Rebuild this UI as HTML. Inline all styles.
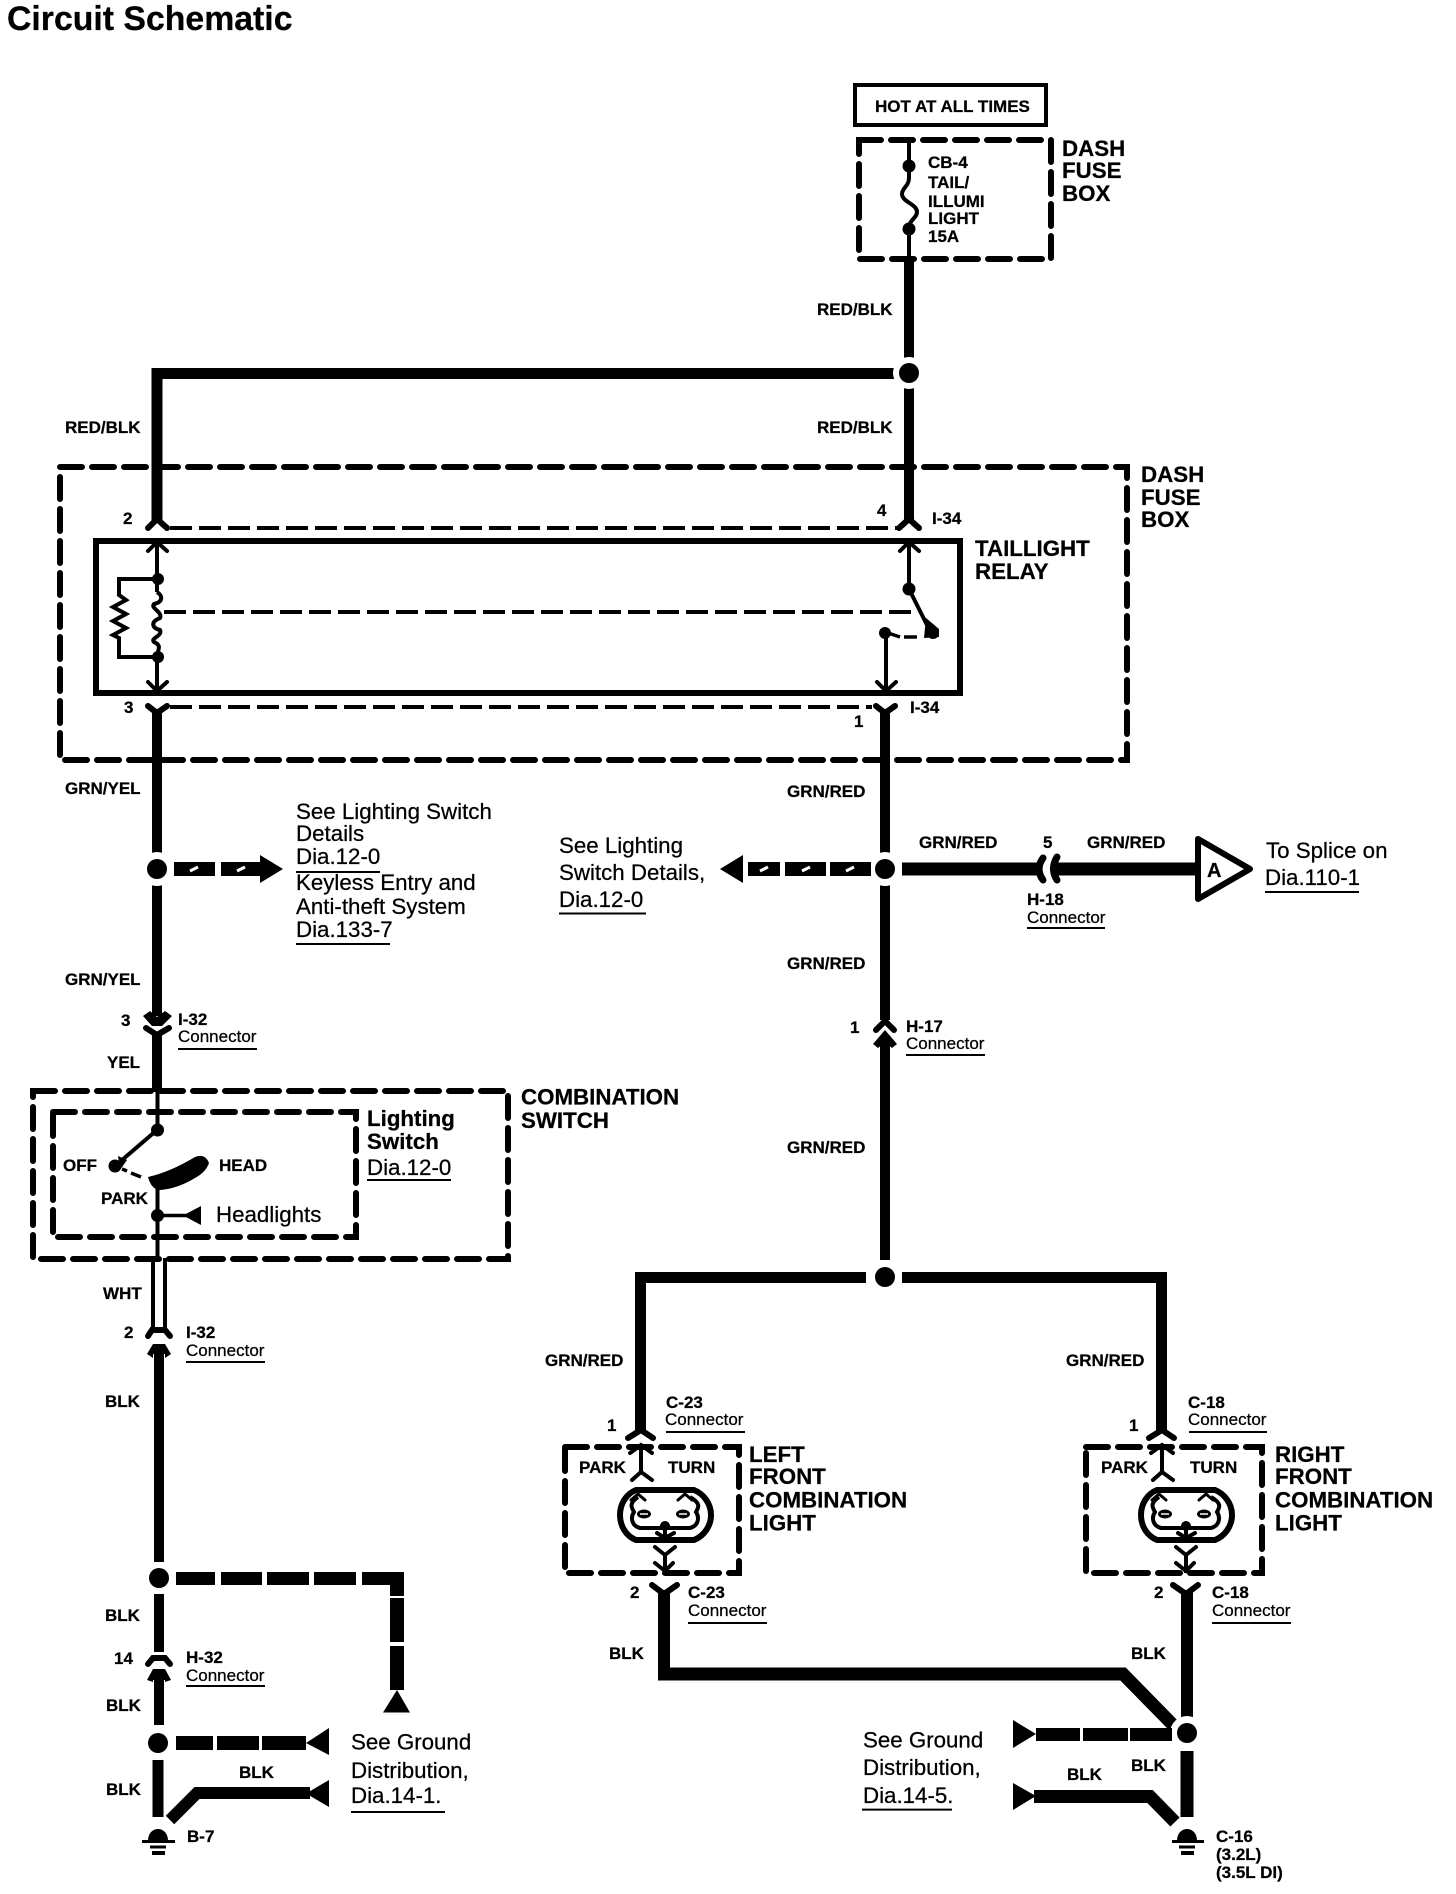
<!DOCTYPE html>
<html><head><meta charset="utf-8"><title>Circuit Schematic</title>
<style>
html,body{margin:0;padding:0;background:#fff}
svg{display:block}
text{font-family:"Liberation Sans",sans-serif;fill:#000;stroke:#000;stroke-width:.25px}
.w{font-size:17px;font-weight:bold}
.h{font-size:22.300px;font-weight:bold}
.s{font-size:22.300px}
.c{font-size:17px}
.t{font-size:33.800px;font-weight:bold}
.d{fill:none;stroke:#000;stroke-width:6;stroke-dasharray:22 10;stroke-linecap:round}
.f{fill:none;stroke:#000;stroke-width:4;stroke-dasharray:22 7}
.l{fill:none;stroke:#000;stroke-linecap:butt;stroke-linejoin:miter}
.k{fill:none;stroke:#000;stroke-width:6;stroke-linecap:round;stroke-linejoin:miter}
.a{fill:none;stroke:#000;stroke-width:4;stroke-linecap:round;stroke-linejoin:miter}
</style></head><body>
<svg width="1456" height="1894" viewBox="0 0 1456 1894" xmlns="http://www.w3.org/2000/svg">
<rect width="1456" height="1894" fill="#fff"/>
<text class="t" x="7" y="30">Circuit Schematic</text>

<!-- top fuse -->
<rect x="855" y="85" width="191" height="40" fill="none" stroke="#000" stroke-width="4"/>
<text class="w" x="875" y="112">HOT AT ALL TIMES</text>
<rect class="d" x="859" y="140" width="192" height="119"/>
<path class="l" stroke-width="4" d="M909 140V178C909 186 902 188 902 194C902 202 917 204 917 212C917 218 909 220 909 228V258"/>
<circle cx="909" cy="166" r="6.500"/><circle cx="909" cy="229" r="6.500"/>
<text class="w" x="928" y="168">CB-4</text>
<text class="w" x="928" y="188">TAIL/</text>
<text class="w" x="928" y="207">ILLUMI</text>
<text class="w" x="928" y="224">LIGHT</text>
<text class="w" x="928" y="242">15A</text>
<text class="h" x="1062" y="156">DASH</text>
<text class="h" x="1062" y="178">FUSE</text>
<text class="h" x="1062" y="201">BOX</text>

<!-- main wires top -->
<path class="l" stroke-width="10" d="M909 256V520"/>
<path class="l" stroke-width="11" d="M896 373.500H157V520"/>
<circle cx="909" cy="373" r="16" fill="#fff"/><circle cx="909" cy="373" r="10"/>
<text class="w" x="817" y="315">RED/BLK</text>
<text class="w" x="817" y="433">RED/BLK</text>
<text class="w" x="65" y="433">RED/BLK</text>

<!-- large dash box -->
<rect class="d" x="60" y="467" width="1067" height="293"/>
<text class="h" x="1141" y="482">DASH</text>
<text class="h" x="1141" y="505">FUSE</text>
<text class="h" x="1141" y="527">BOX</text>

<!-- relay -->
<rect x="96" y="541" width="864" height="152" fill="none" stroke="#000" stroke-width="6"/>
<path class="k" d="M148 528L157 519L167 528"/>
<path class="k" d="M899 528L909 519L919 528"/>
<path class="f" d="M170 528H897"/>
<path class="f" d="M170 707H872"/>
<path class="a" d="M148 551L157 542L167 551"/>
<path class="a" d="M900 551L909 542L919 551"/>
<path class="l" stroke-width="4" d="M157 541V592"/>
<path class="l" stroke-width="4" d="M157 592C163 596 163 602 154 604C150 608 163 612 160 618C150 622 152 628 160 630C163 636 150 638 154 642C163 646 157 650 157 657V692"/>
<path class="l" stroke-width="4" d="M157 579H119V595L126 600L113 607L126 614L113 621L126 628L113 635L119 638V657H157"/>
<circle cx="158" cy="579" r="6"/><circle cx="158" cy="657" r="6"/>
<path class="a" d="M148 682L157 691L167 682"/>
<path class="f" d="M164 612H918"/>
<path class="l" stroke-width="4" d="M909 541V589"/>
<path class="l" stroke-width="4" d="M909 589L931 633"/>
<circle cx="909" cy="589" r="6.500"/>
<path d="M926 618L939 629L939 637L924 638Z"/>
<circle cx="933" cy="633" r="6"/>
<circle cx="885" cy="633" r="6"/>
<path class="l" stroke-width="3.500" d="M888 633L900 637M904 637H917"/>
<path class="l" stroke-width="4" d="M886 633V692"/>
<path class="a" d="M877 682L886 691L896 682"/>
<path class="k" d="M148 706L157 713L167 706"/>
<path class="k" d="M876 706L885 713L895 706"/>
<text class="w" x="123" y="524">2</text>
<text class="w" x="124" y="713">3</text>
<text class="w" x="877" y="516">4</text>
<text class="w" x="932" y="524">I-34</text>
<text class="w" x="910" y="713">I-34</text>
<text class="w" x="854" y="727">1</text>
<text class="h" x="975" y="556">TAILLIGHT</text>
<text class="h" x="975" y="579">RELAY</text>

<!-- left mid -->
<path class="l" stroke-width="10" d="M157 712V1016"/>
<circle cx="157" cy="869" r="17" fill="#fff"/><circle cx="157" cy="869" r="10"/>
<path d="M174 862H215V876H174ZM221 862H260V876H221ZM260 855L283 869L260 883Z"/>
<path stroke="#fff" stroke-width="3" d="M190 871L198 867M237 871L245 867" fill="none"/>
<text class="w" x="65" y="794">GRN/YEL</text>
<text class="w" x="65" y="985">GRN/YEL</text>
<text class="s" x="296" y="819">See Lighting Switch</text>
<text class="s" x="296" y="841">Details</text>
<text class="s" x="296" y="864">Dia.12-0</text>
<path class="l" stroke-width="2" d="M296 872H380"/>
<text class="s" x="296" y="890">Keyless Entry and</text>
<text class="s" x="296" y="914">Anti-theft System</text>
<text class="s" x="296" y="937">Dia.133-7</text>
<path class="l" stroke-width="2" d="M296 944H390"/>

<!-- I-32 upper -->
<path d="M143 1016L150 1011L157 1017L165 1011L172 1016L162 1026H152Z"/>
<path class="k" d="M146 1028L157 1035L169 1028"/>
<path class="l" stroke-width="10" d="M157 1032V1092"/>
<text class="w" x="121" y="1026">3</text>
<text class="w" x="178" y="1025">I-32</text>
<text class="c" x="178" y="1042">Connector</text>
<path class="l" stroke-width="2" d="M178 1049H257"/>
<text class="w" x="107" y="1068">YEL</text>

<!-- combination switch -->
<rect class="d" x="33" y="1091" width="475" height="168"/>
<rect class="d" x="53" y="1112" width="303" height="125"/>
<path class="l" stroke-width="4" d="M157.500 1090V1130"/>
<circle cx="157.500" cy="1130" r="6.500"/>
<path class="l" stroke-width="4" d="M157 1130L115 1166"/>
<path d="M118 1156L127 1160L120 1170Z"/>
<circle cx="115" cy="1166" r="6.500"/>
<path class="l" stroke-width="3.500" d="M122 1169L127 1171M131 1173L141 1177"/>
<path d="M148 1177Q170 1172 195 1157Q205 1153 209 1163Q206 1172 195 1178Q175 1190 157 1190Q150 1186 148 1177Z"/>
<path class="l" stroke-width="4" d="M157.500 1185V1258"/>
<circle cx="157.500" cy="1215.500" r="6.500"/>
<path class="l" stroke-width="3.500" d="M158 1215.500H186"/>
<path d="M183 1215.500L201 1206V1225Z"/>
<text class="w" x="63" y="1171">OFF</text>
<text class="w" x="219" y="1171">HEAD</text>
<text class="w" x="101" y="1204">PARK</text>
<text class="s" x="216" y="1222">Headlights</text>
<text class="h" x="367" y="1126">Lighting</text>
<text class="h" x="367" y="1149">Switch</text>
<text class="s" x="367" y="1175">Dia.12-0</text>
<path class="l" stroke-width="2" d="M367 1180H451"/>
<text class="h" x="521" y="1104.500">COMBINATION</text>
<text class="h" x="521" y="1128">SWITCH</text>

<!-- WHT -->
<path class="l" stroke-width="4" d="M153 1258V1328M165 1258V1328"/>
<text class="w" x="103" y="1299">WHT</text>
<path class="k" d="M148 1336L152 1330H165L170 1336"/>
<text class="w" x="124" y="1338">2</text>
<text class="w" x="186" y="1338">I-32</text>
<text class="c" x="186" y="1356">Connector</text>
<path class="l" stroke-width="2" d="M186 1362H265"/>
<path d="M147 1354L153 1344H165L171 1354L165 1358V1354H153V1358Z"/>
<path class="l" stroke-width="10" d="M159 1344V1562M159 1594V1652"/>
<circle cx="159" cy="1578" r="10"/>
<text class="w" x="105" y="1407">BLK</text>
<text class="w" x="105" y="1621">BLK</text>
<path d="M176 1572H215V1585H176ZM221 1572H262V1585H221ZM267 1572H309V1585H267ZM314 1572H356V1585H314ZM362 1572H404V1585H362ZM390 1585H404V1596H390ZM390 1598H404V1642H390ZM390 1646H404V1690H390Z"/>
<path d="M397 1690L410 1712.500H383Z"/>

<!-- H-32 -->
<path class="k" d="M148 1664L153 1658H165L170 1664"/>
<path d="M147 1680L153 1669H165L171 1680L165 1682V1680H153V1682Z"/>
<path class="l" stroke-width="10" d="M159 1669V1725"/>
<text class="w" x="114" y="1664">14</text>
<text class="w" x="186" y="1663">H-32</text>
<text class="c" x="186" y="1681">Connector</text>
<path class="l" stroke-width="2" d="M186 1686H265"/>
<text class="w" x="106" y="1711">BLK</text>
<circle cx="158" cy="1743" r="10"/>
<path d="M176 1736H213V1750H176ZM217 1736H259V1750H217ZM262 1736H306V1750H262ZM306 1743L329 1728V1755Z"/>
<path class="l" stroke-width="11" d="M158 1760V1817"/>
<text class="w" x="106" y="1795">BLK</text>
<text class="w" x="239" y="1778">BLK</text>
<path class="l" stroke-width="12" d="M170 1820L197 1793H310"/>
<path d="M306 1793.500L329 1780V1807Z"/>
<path d="M148 1841C148 1825 168 1825 168 1841Z"/>
<path class="l" stroke-width="3" d="M142 1841.500H175M150 1847H166"/>
<path class="l" stroke-width="4" d="M152 1853H165"/>
<text class="w" x="187" y="1842">B-7</text>
<text class="s" x="351" y="1749.500">See Ground</text>
<text class="s" x="351" y="1778">Distribution,</text>
<text class="s" x="351" y="1803">Dia.14-1.</text>
<path class="l" stroke-width="2" d="M351 1812H445"/>

<!-- right mid -->
<path class="l" stroke-width="10" d="M885 712V1020"/>
<circle cx="885" cy="869" r="17" fill="#fff"/><circle cx="885" cy="869" r="10"/>
<path d="M720 869L743 855V883ZM748 862H780V876H748ZM785 862H826V876H785ZM830 862H871V876H830Z"/>
<path stroke="#fff" stroke-width="3" d="M760 871L768 867M802 871L810 867M846 871L854 867" fill="none"/>
<text class="w" x="787" y="797">GRN/RED</text>
<text class="w" x="787" y="969">GRN/RED</text>
<text class="w" x="787" y="1153">GRN/RED</text>
<text class="s" x="559" y="853">See Lighting</text>
<text class="s" x="559" y="880">Switch Details,</text>
<text class="s" x="559" y="907">Dia.12-0</text>
<path class="l" stroke-width="2" d="M559 913.500H646"/>
<path class="l" stroke-width="13" d="M902 869H1038M1053 869H1200"/>
<path d="M1043 858Q1035 869 1043 880M1057 857Q1050 869 1057 880" fill="none" stroke="#000" stroke-width="7" stroke-linecap="round"/>
<path d="M1198 839L1250 869L1198 899Z" fill="#fff" stroke="#000" stroke-width="6" stroke-linejoin="round"/>
<text x="1207" y="877" style="font-size:20px;font-weight:bold">A</text>
<text class="w" x="919" y="848">GRN/RED</text>
<text class="w" x="1043" y="848">5</text>
<text class="w" x="1087" y="848">GRN/RED</text>
<text class="w" x="1027" y="905">H-18</text>
<text class="c" x="1027" y="923">Connector</text>
<path class="l" stroke-width="2" d="M1027 928H1105"/>
<text class="s" x="1266" y="858">To Splice on</text>
<text class="s" x="1265" y="885">Dia.110-1</text>
<path class="l" stroke-width="2" d="M1265 892H1359"/>

<!-- H-17 -->
<path class="k" d="M876 1030L885 1021L894 1030"/>
<path d="M873 1044L885 1030L897 1044L892 1048L885 1042L878 1048Z"/>
<path class="l" stroke-width="10" d="M885 1036V1260"/>
<text class="w" x="850" y="1033">1</text>
<text class="w" x="906" y="1032">H-17</text>
<text class="c" x="906" y="1049">Connector</text>
<path class="l" stroke-width="2" d="M906 1055H985"/>

<!-- split -->
<path class="l" stroke-width="11" d="M866 1277.500H640.500V1430M902 1277.500H1161.500V1430"/>
<circle cx="885" cy="1277" r="10"/>
<text class="w" x="545" y="1366">GRN/RED</text>
<text class="w" x="1066" y="1366">GRN/RED</text>

<!-- left lamp -->
<path class="l" stroke-width="12" d="M664 1590V1674"/>
<g>
<path class="k" d="M628 1438L641 1430L653 1438"/>
<rect class="d" x="565" y="1447" width="174" height="126"/>
<path class="l" stroke-width="4" d="M641 1445V1472"/>
<path class="a" d="M630 1453L641 1445L652 1453M632 1480L641 1472L652 1480"/>
<path d="M636 1490H694C704 1494 711 1504 711 1515C711 1526 704 1536 694 1540H636C626 1536 620 1526 620 1515C620 1504 626 1494 636 1490Z" fill="none" stroke="#000" stroke-width="6"/>
<path d="M638 1497C628 1504 632 1508 634 1512C630 1518 632 1526 640 1528H690C698 1526 700 1518 696 1512C698 1508 702 1504 690 1497" fill="none" stroke="#000" stroke-width="4"/>
<ellipse cx="644" cy="1514" rx="7" ry="4.500"/><ellipse cx="683" cy="1514" rx="7" ry="4.500"/>
<path stroke="#fff" stroke-width="1.500" d="M640 1514H648M679 1514H687"/>
<path class="a" d="M631 1500L638 1494L645 1500M678 1500L685 1494L692 1500" style="stroke-width:3"/>
<circle cx="665" cy="1526" r="5"/>
<path class="l" stroke-width="4" d="M665 1526V1538M665 1555V1573"/>
<path class="a" d="M657 1533L665 1538L674 1533M655 1547L665 1555L675 1547M655 1563L665 1571L673 1563"/>
<path class="k" d="M652 1585L664 1594L677 1585"/>
</g>
<text class="w" x="607" y="1431">1</text>
<text class="w" x="666" y="1408">C-23</text>
<text class="c" x="665" y="1425">Connector</text>
<path class="l" stroke-width="2" d="M666 1432H745"/>
<text class="w" x="630" y="1598">2</text>
<text class="w" x="688" y="1598">C-23</text>
<text class="c" x="688" y="1616">Connector</text>
<path class="l" stroke-width="2" d="M688 1623H767"/>
<text class="w" x="579" y="1473">PARK</text>
<text class="w" x="668" y="1473">TURN</text>
<text class="h" x="749" y="1462">LEFT</text>
<text class="h" x="749" y="1484">FRONT</text>
<text class="h" x="749" y="1507.500">COMBINATION</text>
<text class="h" x="749" y="1530.600">LIGHT</text>

<!-- right lamp -->
<g transform="translate(521,0)">
<path class="k" d="M628 1438L641 1430L653 1438"/>
<rect class="d" x="565" y="1447" width="176" height="126"/>
<path class="l" stroke-width="4" d="M641 1445V1472"/>
<path class="a" d="M630 1453L641 1445L652 1453M632 1480L641 1472L652 1480"/>
<path d="M636 1490H694C704 1494 711 1504 711 1515C711 1526 704 1536 694 1540H636C626 1536 620 1526 620 1515C620 1504 626 1494 636 1490Z" fill="none" stroke="#000" stroke-width="6"/>
<path d="M638 1497C628 1504 632 1508 634 1512C630 1518 632 1526 640 1528H690C698 1526 700 1518 696 1512C698 1508 702 1504 690 1497" fill="none" stroke="#000" stroke-width="4"/>
<ellipse cx="644" cy="1514" rx="7" ry="4.500"/><ellipse cx="683" cy="1514" rx="7" ry="4.500"/>
<path stroke="#fff" stroke-width="1.500" d="M640 1514H648M679 1514H687"/>
<path class="a" d="M631 1500L638 1494L645 1500M678 1500L685 1494L692 1500" style="stroke-width:3"/>
<circle cx="665" cy="1526" r="5"/>
<path class="l" stroke-width="4" d="M665 1526V1538M665 1555V1573"/>
<path class="a" d="M657 1533L665 1538L674 1533M655 1547L665 1555L675 1547M655 1563L665 1571L673 1563"/>
<path class="k" d="M652 1585L665 1594L677 1585"/>
</g>
<text class="w" x="1129" y="1431">1</text>
<text class="w" x="1188" y="1408">C-18</text>
<text class="c" x="1188" y="1425">Connector</text>
<path class="l" stroke-width="2" d="M1189 1432H1267"/>
<text class="w" x="1154" y="1598">2</text>
<text class="w" x="1212" y="1598">C-18</text>
<text class="c" x="1212" y="1616">Connector</text>
<path class="l" stroke-width="2" d="M1212 1623H1291"/>
<text class="w" x="1101" y="1473">PARK</text>
<text class="w" x="1190" y="1473">TURN</text>
<text class="h" x="1275" y="1462">RIGHT</text>
<text class="h" x="1275" y="1484">FRONT</text>
<text class="h" x="1275" y="1507.500">COMBINATION</text>
<text class="h" x="1275" y="1530.600">LIGHT</text>

<!-- bottom right wiring -->
<path class="l" stroke-width="13" d="M658 1674H1123L1175 1727"/>
<path class="l" stroke-width="12" d="M1187 1590V1735"/>
<circle cx="1187" cy="1733" r="17" fill="#fff"/><circle cx="1187" cy="1733" r="10"/>
<path class="l" stroke-width="13" d="M1187 1751V1817"/>
<text class="w" x="609" y="1659">BLK</text>
<text class="w" x="1131" y="1659">BLK</text>
<path d="M1013 1720L1036 1734L1013 1748ZM1036 1728H1080V1741H1036ZM1083 1728H1128V1741H1083ZM1130 1728H1172V1741H1130Z"/>
<path d="M1013 1783L1036 1796L1013 1810Z"/>
<path class="l" stroke-width="13" d="M1034 1796.500H1150L1175 1822"/>
<text class="w" x="1067" y="1780">BLK</text>
<text class="w" x="1131" y="1771">BLK</text>
<path d="M1177 1841C1177 1825 1197 1825 1197 1841Z"/>
<path class="l" stroke-width="3" d="M1172 1841.500H1204M1179 1847H1195"/>
<path class="l" stroke-width="4" d="M1181 1853H1194"/>
<text class="w" x="1216" y="1842">C-16</text>
<text class="w" x="1216" y="1860">(3.2L)</text>
<text class="w" x="1216" y="1878">(3.5L DI)</text>
<text class="s" x="863" y="1747.500">See Ground</text>
<text class="s" x="863" y="1775">Distribution,</text>
<text class="s" x="863" y="1803">Dia.14-5.</text>
<path class="l" stroke-width="2" d="M862 1809.600H952"/>
</svg>
</body></html>
